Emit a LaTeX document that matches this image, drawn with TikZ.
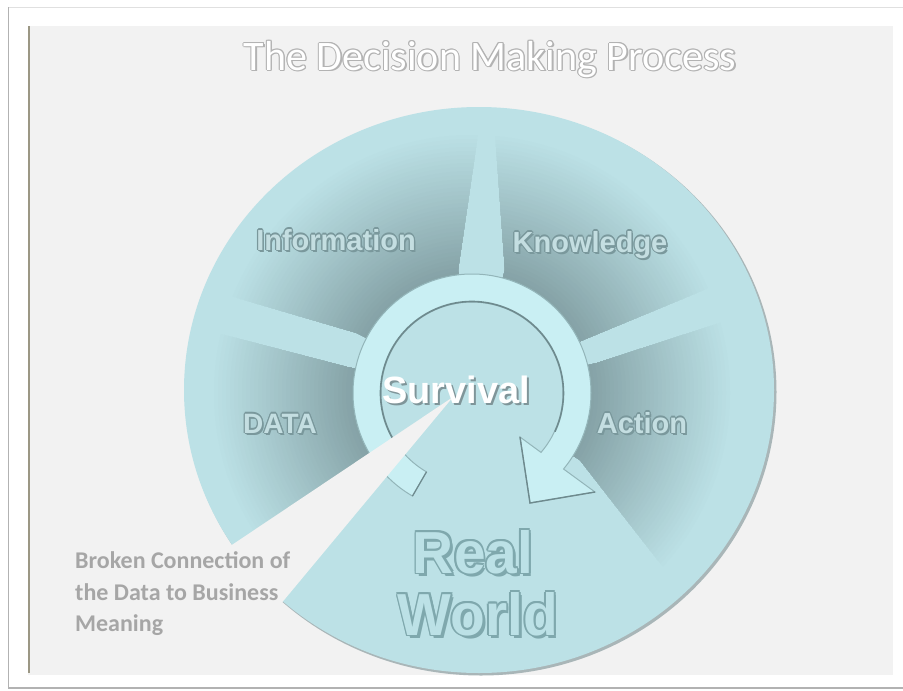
\documentclass[tikz,border=0pt]{standalone}
\usepackage{fontspec}
\newfontfamily\libsans{Liberation Sans}
\newfontfamily\carlito{Carlito}
\usetikzlibrary{calc}
\definecolor{panel}{HTML}{F2F2F2}
\definecolor{base}{HTML}{BCE1E6}
\definecolor{secdark}{HTML}{84A1A5}
\definecolor{ringc}{HTML}{C9EFF3}
\definecolor{ringedge}{HTML}{93B5B9}
\definecolor{ringshadow}{HTML}{6E8A8E}
\definecolor{lblfill}{HTML}{C4DEE1}
\definecolor{lbledge}{HTML}{7A989C}
\definecolor{rwedge}{HTML}{7FA8AD}
\definecolor{olive}{HTML}{9B9784}
\definecolor{titleedge}{HTML}{B3B3B3}
\definecolor{noteclr}{HTML}{A6A6A6}
\definecolor{ellshadow}{HTML}{A9B6B8}
\definecolor{survshadow}{HTML}{7F9599}
\newcommand\embossed[7]{%
  \node[txt, font={#3}, text=#5] (#1sh) at ($(#2)+({1.4*#7},{1.8*#7})$) {#4};
  \foreach \ox/\oy [count=\k] in {1/0,-1/0,0/1,0/-1,0.7/0.7,-0.7/0.7,0.7/-0.7,-0.7/-0.7}{%
    \node[txt, font={#3}, text=#5] (#1o\k) at ($(#2)+({#7*\ox},{#7*\oy})$) {#4};}
  \node[txt, font={#3}, text=#6] (#1) at (#2) {#4};}
\begin{document}
\begin{tikzpicture}[x=1pt,y=-1pt, txt/.style={inner sep=0pt, anchor=base}]
\useasboundingbox (0,0) rectangle (903,691);
% frame and panel
\fill[white] (0,0) rectangle (903,691);
\draw[black!30, line width=1.2] (8.5,7) -- (8.5,688) -- (903,688);
\draw[black!12, line width=0.8] (8.5,7) -- (903,7);
\fill[panel] (28,26) rectangle (893,675);
\draw[olive, line width=2.6] (29,26) -- (29,673);
% disc
\fill[ellshadow] (481,392) ellipse [x radius=295.5, y radius=283.5];
\fill[base] (479,390) ellipse [x radius=295, y radius=283];
% shaded sectors
\begin{scope}
  \clip (479,390) ellipse [x radius=295, y radius=283];
  \clip (472,393) -- (357,333) -- (60,246) -- (60,0) -- (483,0) -- (483,100) -- (458,270) -- cycle
        (472,393) -- (505,270) -- (492.6,100) -- (492.6,0) -- (950,0) -- (950,188) -- (583,340) -- cycle
        (472,393) -- (597,363) -- (950,248) -- (950,769) -- (820,769) -- (580,460) -- cycle
        (472,393) -- (347,367) -- (60,292) -- (60,640) -- (117,622) -- (453,397) -- cycle;
  \foreach \r in {262,258,...,118}{%
    \pgfmathsetmacro\p{100*(\r-118)/144}
    \fill[base!\p!secdark] (472,393) circle (\r);}
\end{scope}
% centre disc and ring arrow
\fill[base] (472,393) circle (119);
\fill[ringc, draw=ringedge, line width=1] (472,393) ++(120:119)
  arc[start angle=120, end angle=399.7, radius=119]
  -- (595,492) -- (530,503) -- (520,437) -- (541,452.4)
  arc[start angle=400.7, end angle=120, radius=91] -- cycle;
\draw[ringshadow, line width=1.6] (472,393) ++(150:91.5) arc[start angle=150, end angle=385, radius=91.5];
\draw[ringshadow, line width=1.4] (520,437) -- (530,503) -- (595,492);
\draw[ringshadow, line width=1.2] (426.5,471.8) -- (412.5,496);
% broken connection wedge
\fill[panel] (453,397) -- (184,577) -- (245,647) -- cycle;
% labels
\embossed{info}{336,250}{\libsans\bfseries\fontsize{29}{34}\selectfont}{Information}{lbledge}{lblfill}{1.2}
\embossed{know}{590,252}{\libsans\bfseries\fontsize{29}{34}\selectfont}{Knowledge}{lbledge}{lblfill}{1.2}
\embossed{data}{280,433}{\libsans\bfseries\fontsize{28}{34}\selectfont}{DATA}{lbledge}{lblfill}{1.2}
\embossed{action}{642,433}{\libsans\bfseries\fontsize{29}{34}\selectfont}{Action}{lbledge}{lblfill}{1.2}
\embossed{real}{473,573}{\libsans\bfseries}{\resizebox{120pt}{43pt}{Real}}{rwedge}{base}{1.8}
\embossed{world}{478,635}{\libsans\bfseries}{\resizebox{160pt}{43pt}{World}}{rwedge}{base}{1.8}
\embossed{title}{490,70}{\carlito\fontsize{42}{50}\selectfont}{The Decision Making Process}{titleedge}{white}{1}
\node[txt, font={\libsans\bfseries\fontsize{38}{44}\selectfont}, text=survshadow] (survsh) at (458,405) {Survival};
\node[txt, font={\libsans\bfseries\fontsize{38}{44}\selectfont}, text=white] (surv) at (456,403) {Survival};
% note
\node[txt, anchor=base west, font={\carlito\bfseries\fontsize{24}{30}\selectfont}, text=noteclr] (n1) at (75,568) {Broken Connection of};
\node[txt, anchor=base west, font={\carlito\bfseries\fontsize{24}{30}\selectfont}, text=noteclr] (n2) at (75,600) {the Data to Business};
\node[txt, anchor=base west, font={\carlito\bfseries\fontsize{24}{30}\selectfont}, text=noteclr] (n3) at (75,631) {Meaning};
\end{tikzpicture}
\end{document}
